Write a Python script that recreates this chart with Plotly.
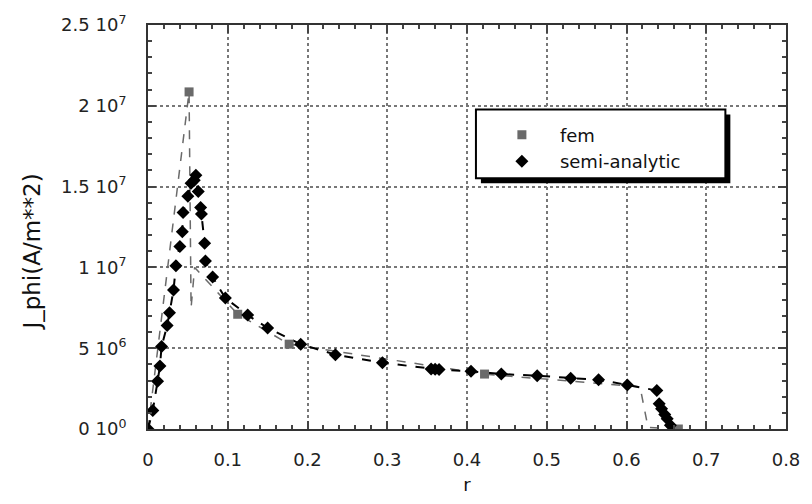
import plotly.graph_objects as go

# ---- data ----
semi_r = [0, 0.006, 0.012, 0.015, 0.017, 0.024, 0.027, 0.032, 0.035, 0.040,
          0.043, 0.044, 0.050, 0.054, 0.058, 0.060, 0.063, 0.066, 0.067, 0.071,
          0.072, 0.081, 0.097, 0.125, 0.150, 0.1915, 0.235, 0.294, 0.355, 0.360,
          0.365, 0.405, 0.443, 0.488, 0.530, 0.565, 0.601, 0.638, 0.641, 0.644,
          0.648, 0.651, 0.655]
semi_j = [0, 1.15e6, 2.95e6, 3.9e6, 5.1e6, 6.4e6, 7.2e6, 8.6e6, 1.01e7, 1.13e7,
          1.22e7, 1.34e7, 1.44e7, 1.52e7, 1.54e7, 1.57e7, 1.47e7, 1.37e7, 1.33e7, 1.15e7,
          1.04e7, 9.4e6, 8.1e6, 7.05e6, 6.25e6, 5.25e6, 4.6e6, 4.1e6, 3.72e6, 3.70e6,
          3.68e6, 3.57e6, 3.4e6, 3.3e6, 3.14e6, 3.04e6, 2.73e6, 2.38e6, 1.56e6, 1.25e6,
          0.9e6, 0.63e6, 0.23e6]

fem_line_r = [0, 0.0515, 0.054, 0.0585, 0.1125, 0.177, 0.422, 0.617, 0.627, 0.665]
fem_line_j = [0, 2.086e7, 7.5e6, 1.0e7, 7.1e6, 5.25e6, 3.4e6, 2.6e6, 0.1e6, 0]

fem_node_r = [0.0515, 0.1125, 0.177, 0.422, 0.665]
fem_node_j = [2.086e7, 7.1e6, 5.25e6, 3.4e6, 0]

x_ticks = [0, 0.1, 0.2, 0.3, 0.4, 0.5, 0.6, 0.7, 0.8]
x_ticklabels = ["0", "0.1", "0.2", "0.3", "0.4", "0.5", "0.6", "0.7", "0.8"]
y_ticks = [0, 5e6, 1e7, 1.5e7, 2e7, 2.5e7]
y_ticklabels = ["0 10<sup>0</sup>", "5 10<sup>6</sup>", "1 10<sup>7</sup>",
                "1.5 10<sup>7</sup>", "2 10<sup>7</sup>", "2.5 10<sup>7</sup>"]

FONT = "DejaVu Sans"

# plot area in pixels (for paper-coordinate conversions)
L, R, T, B = 148, 790, 24, 430
W, H = 812, 504


def px(xp):
    return (xp - L) / (R - L)


def py(yp):
    return (B - yp) / (B - T)


fig = go.Figure()

fig.add_trace(go.Scatter(x=fem_line_r, y=fem_line_j, mode="lines",
                         line=dict(color="#6a6a6a", width=1.5, dash="dash"),
                         showlegend=False, hoverinfo="skip"))
fig.add_trace(go.Scatter(x=semi_r, y=semi_j, mode="lines",
                         line=dict(color="black", width=2, dash="dash"),
                         showlegend=False, hoverinfo="skip"))
fig.add_trace(go.Scatter(x=fem_node_r, y=fem_node_j, mode="markers", name="fem",
                         marker=dict(symbol="square", size=9, color="#6a6a6a")))
fig.add_trace(go.Scatter(x=semi_r, y=semi_j, mode="markers", name="semi-analytic",
                         marker=dict(symbol="diamond", size=10, color="black")))

axis_common = dict(
    showline=True, linecolor="#333", linewidth=2, mirror="allticks",
    ticks="inside", ticklen=8, tickwidth=2, tickcolor="#444",
    showgrid=True, gridcolor="#777", gridwidth=1.5, griddash="dot",
    zeroline=False,
    tickfont=dict(family=FONT, size=18, color="#222"),
)

fig.update_xaxes(range=[0, 0.8], tickvals=x_ticks, ticktext=x_ticklabels,
                 minor=dict(ticks="inside", ticklen=4, tickwidth=2, tickcolor="#444",
                            dtick=0.02, showgrid=False),
                 ticklabelstandoff=13,
                 title=dict(text="r", font=dict(family=FONT, size=18, color="#111"),
                            standoff=10),
                 **axis_common)
fig.update_yaxes(range=[0, 2.5e7], tickvals=y_ticks, ticktext=y_ticklabels,
                 minor=dict(ticks="inside", ticklen=4, tickwidth=2, tickcolor="#444",
                            dtick=1e6, showgrid=False),
                 ticklabelstandoff=16,
                 **axis_common)

# y-axis title as a rotated annotation
fig.add_annotation(text="J_phi(A/m**2)", textangle=-90, xref="paper", yref="paper",
                   x=px(31), y=py(252), xanchor="center", yanchor="middle",
                   showarrow=False, font=dict(family=FONT, size=23, color="#111"))

# legend box with drop shadow
fig.add_shape(type="rect", xref="paper", yref="paper",
              x0=px(483), x1=px(734), y0=py(183), y1=py(114),
              fillcolor="black", line=dict(width=0), layer="above")
fig.add_shape(type="rect", xref="paper", yref="paper",
              x0=px(478), x1=px(729), y0=py(178), y1=py(109),
              fillcolor="white", line=dict(color="black", width=2), layer="above")

fig.update_layout(
    width=W, height=H,
    margin=dict(l=L, r=W - R, t=T, b=H - B),
    plot_bgcolor="white", paper_bgcolor="white",
    showlegend=True,
    legend=dict(x=px(486), y=py(116), xanchor="left", yanchor="top",
                bgcolor="rgba(0,0,0,0)", borderwidth=0,
                font=dict(family=FONT, size=18, color="#111"),
                itemwidth=66, tracegroupgap=0),
)

fig.write_html("out.html", config={"displayModeBar": False},
               post_script="document.body.style.margin='0';document.body.style.padding='0';")
